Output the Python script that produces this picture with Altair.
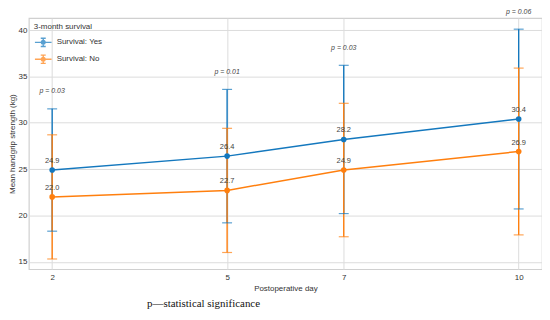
import altair as alt
import pandas as pd

days = [2, 5, 7, 10]
groups = ["Survival: Yes", "Survival: No"]
yes_mean = [24.9, 26.4, 28.2, 30.4]
yes_sd = [6.6, 7.2, 8.0, 9.7]
no_mean = [22.0, 22.7, 24.9, 26.9]
no_sd = [6.7, 6.7, 7.2, 9.0]
p_text = ["p = 0.03", "p = 0.01", "p = 0.03", "p = 0.06"]
colors = ["#1478be", "#ff7f0e"]

rows = []
for g, means, sds in [(groups[0], yes_mean, yes_sd), (groups[1], no_mean, no_sd)]:
    for d, m, s in zip(days, means, sds):
        rows.append({"day": d, "group": g, "mean": m, "lo": round(m - s, 2),
                     "hi": round(m + s, 2), "label": f"{m:.1f}"})
df = pd.DataFrame(rows)

p_rows = []
for i, d in enumerate(days):
    top = max(yes_mean[i] + yes_sd[i], no_mean[i] + no_sd[i])
    p_rows.append({"day": d, "pos": top + 1.9, "txt": p_text[i]})
pdf = pd.DataFrame(p_rows)

FONT = "Liberation Sans"
xs = alt.Scale(domain=[1.6, 10.4], nice=False, zero=False)
ys = alt.Scale(domain=[14.2, 41.3], nice=False, zero=False)
cs = alt.Scale(domain=groups, range=colors)
SYM = ("M-1,0H1M0,-0.5V0.5M-0.3,-0.5H0.3M-0.3,0.5H0.3"
       "M0.22,0A0.22,0.22 0 1,1 -0.22,0A0.22,0.22 0 1,1 0.22,0Z")
LEG = alt.Legend(title="3-month survival", orient="top-left",
                 offset=5, titleFontSize=8, labelFontSize=8,
                 titleFontWeight="normal", titleColor="#333",
                 labelColor="#333", symbolType=SYM, symbolSize=280,
                 symbolStrokeWidth=1.4, rowPadding=0, titlePadding=2,
                 labelOffset=4)
C = alt.Color("group:N", scale=cs, sort=groups, legend=LEG)

X = alt.X("day:Q", scale=xs, title="Postoperative day",
          axis=alt.Axis(values=days, format="d"))
Y = alt.Y("mean:Q", scale=ys, title="Mean handgrip strength (kg)",
          axis=alt.Axis(values=[15, 20, 25, 30, 35, 40]))

base = alt.Chart(df)

rules = base.mark_rule(strokeWidth=1.4).encode(
    x=X, y=alt.Y("lo:Q", scale=ys), y2="hi:Q", color=C,
)
caps_lo = base.mark_tick(thickness=1.2, size=10, orient="horizontal").encode(
    x=X, y=alt.Y("lo:Q", scale=ys), color=C,
)
caps_hi = base.mark_tick(thickness=1.2, size=10, orient="horizontal").encode(
    x=X, y=alt.Y("hi:Q", scale=ys), color=C,
)
lines = base.mark_line(strokeWidth=1.5, point=alt.OverlayMarkDef(size=32, filled=True, opacity=1)).encode(
    x=X, y=Y, color=C,
)
labels = base.mark_text(fontSize=7.5, color="#444", dy=-9, font=FONT).encode(
    x=X, y=Y, text="label:N"
)
ptext = alt.Chart(pdf).mark_text(fontSize=7, color="#444", fontStyle="italic", font=FONT,
                                 clip=False).encode(
    x=X, y=alt.Y("pos:Q", scale=ys), text="txt:N"
)

chart = alt.layer(rules, caps_lo, caps_hi, lines, labels, ptext).properties(
    width=517, height=253, background="white",
    padding={"left": 0, "top": -2, "right": 0, "bottom": 0},
    title=alt.TitleParams("p—statistical significance", orient="bottom", anchor="start",
                          dx=140, offset=6, font="Liberation Serif", fontSize=11,
                          fontWeight="normal", color="#111"),
).configure_view(stroke="#d0d0d0", strokeWidth=1.2).configure_axis(
    grid=True, gridColor="#dcdcdc", gridWidth=1, domain=False, ticks=False,
    labelFont=FONT, titleFont=FONT, labelFontSize=8, titleFontSize=8,
    labelColor="#333", titleColor="#333", titleFontWeight="normal",
    labelPadding=4, titlePadding=3,
).configure_axisY(labelPadding=2, titlePadding=2).configure_legend(labelFont=FONT, titleFont=FONT)

chart.save("out.html", embed_options={"renderer": "svg", "actions": False})
